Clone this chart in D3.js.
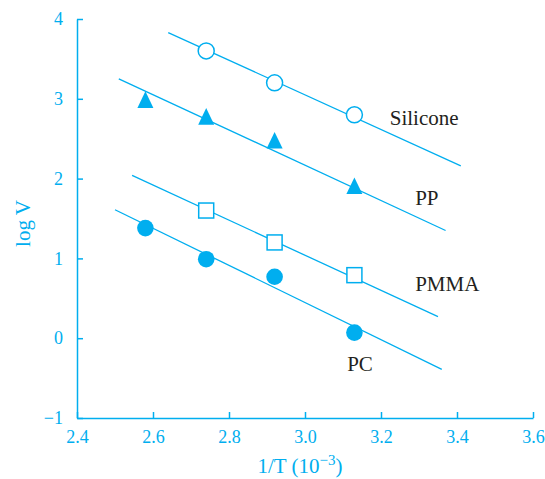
<!DOCTYPE html>
<html lang="en">

<head>
  <meta charset="UTF-8">
  <title>log V vs 1/T</title>
  <style>
    body {
      margin: 0;
      padding: 0;
      background: #fff;
    }

    svg {
      display: block;
      font-family: "Liberation Serif", "DejaVu Serif", serif;
    }

    .axis path,
    .axis line {
      stroke: #00aeef;
      stroke-width: 1.5;
    }

    .axis text {
      fill: #00aeef;
      font-size: 18px;
      font-family: "Liberation Serif", serif;
    }

    .fit {
      fill: none;
      stroke: #00aeef;
      stroke-width: 1.3;
    }

    .label {
      fill: #231f20;
      font-size: 21px;
    }

    .title {
      fill: #00aeef;
      font-size: 21px;
    }
  </style>
</head>

<body>
  <svg class="chart"></svg>

  <script src="https://cdnjs.cloudflare.com/ajax/libs/d3/7.8.5/d3.min.js"></script>
  <script>
    'use strict';

    // 1/T (10^-3) for each measurement
    const invT = [2.58, 2.74, 2.92, 3.13];

    // log V, null where no point
    const silicone = [null, 3.60, 3.20, 2.80];
    const pp = [2.99, 2.78, 2.48, 1.91];
    const pmma = [null, 1.60, 1.20, 0.79];
    const pc = [1.38, 0.99, 0.77, 0.07];

    // fitted lines, [start, end] as [1/T, log V]
    const siliconeFit = [[2.64, 3.83], [3.41, 2.16]];
    const ppFit = [[2.51, 3.25], [3.37, 1.35]];
    const pmmaFit = [[2.545, 2.04], [3.35, 0.27]];
    const pcFit = [[2.50, 1.61], [3.36, -0.39]];

    // series names and where their label sits (baseline-left, data units)
    const names = ['Silicone', 'PP', 'PMMA', 'PC'];
    const labelPos = [[3.223, 2.673], [3.29, 1.669], [3.29, 0.594], [3.111, -0.41]];

    const xTicks = [2.4, 2.6, 2.8, 3.0, 3.2, 3.4, 3.6];
    const yTicks = [-1, 0, 1, 2, 3, 4];

    const W = 545, H = 479;
    const margin = { top: 19, right: 12, bottom: 61, left: 77 };
    const cyan = '#00aeef';

    const svg = d3.select('.chart').attr('width', W).attr('height', H);

    const x = d3.scaleLinear().domain([2.4, 3.6]).range([margin.left, W - margin.right]);
    const y = d3.scaleLinear().domain([-1, 4]).range([H - margin.bottom, margin.top]);

    // axes
    svg.append('g')
      .attr('class', 'axis')
      .attr('transform', `translate(0,${y(-1)})`)
      .call(d3.axisBottom(x).tickValues(xTicks).tickFormat(d3.format('.1f'))
        .tickSizeInner(-6).tickSizeOuter(0).tickPadding(12));

    svg.append('g')
      .attr('class', 'axis')
      .attr('transform', `translate(${x(2.4)},0)`)
      .call(d3.axisLeft(y).tickValues(yTicks).tickFormat(d3.format('d'))
        .tickSizeInner(-6).tickSizeOuter(0).tickPadding(14));

    // axis titles
    svg.append('text')
      .attr('class', 'title')
      .attr('transform', `translate(30,${(y(4) + y(-1)) / 2 + 5}) rotate(-90)`)
      .attr('text-anchor', 'middle')
      .text('log V');

    const xt = svg.append('text')
      .attr('class', 'title')
      .attr('x', (x(2.4) + x(3.6)) / 2 - 5)
      .attr('y', 473)
      .attr('font-size', 22)
      .attr('text-anchor', 'middle');
    xt.append('tspan').text('1/T (10');
    xt.append('tspan').attr('dy', -8).attr('font-size', 15).text('\u22123');
    xt.append('tspan').attr('dy', 8).text(')');

    // fit lines
    const line = d3.line().x(d => x(d[0])).y(d => y(d[1]));
    [siliconeFit, ppFit, pmmaFit, pcFit].forEach(f => {
      svg.append('path').attr('class', 'fit').attr('d', line(f));
    });

    function pts(vals) {
      return invT.map((t, i) => [t, vals[i]]).filter(d => d[1] !== null);
    }

    // Silicone: open circles
    svg.append('g').selectAll('circle')
      .data(pts(silicone))
      .join('circle')
      .attr('cx', d => x(d[0]))
      .attr('cy', d => y(d[1]))
      .attr('r', 8)
      .attr('fill', '#fff')
      .attr('stroke', cyan)
      .attr('stroke-width', 1.5);

    // PP: filled triangles
    svg.append('g').selectAll('path')
      .data(pts(pp))
      .join('path')
      .attr('transform', d => `translate(${x(d[0])},${y(d[1])})`)
      .attr('d', 'M0,-8.3L8,8.3L-8,8.3Z')
      .attr('fill', cyan);

    // PMMA: open squares
    svg.append('g').selectAll('rect')
      .data(pts(pmma))
      .join('rect')
      .attr('x', d => x(d[0]) - 7.5)
      .attr('y', d => y(d[1]) - 7.5)
      .attr('width', 15)
      .attr('height', 15)
      .attr('fill', '#fff')
      .attr('stroke', cyan)
      .attr('stroke-width', 1.5);

    // PC: filled circles
    svg.append('g').selectAll('circle')
      .data(pts(pc))
      .join('circle')
      .attr('cx', d => x(d[0]))
      .attr('cy', d => y(d[1]))
      .attr('r', 8.3)
      .attr('fill', cyan);

    // series labels
    svg.append('g').selectAll('text')
      .data(names)
      .join('text')
      .attr('class', 'label')
      .attr('x', (d, i) => x(labelPos[i][0]))
      .attr('y', (d, i) => y(labelPos[i][1]))
      .text(d => d);
  </script>
</body>

</html>
